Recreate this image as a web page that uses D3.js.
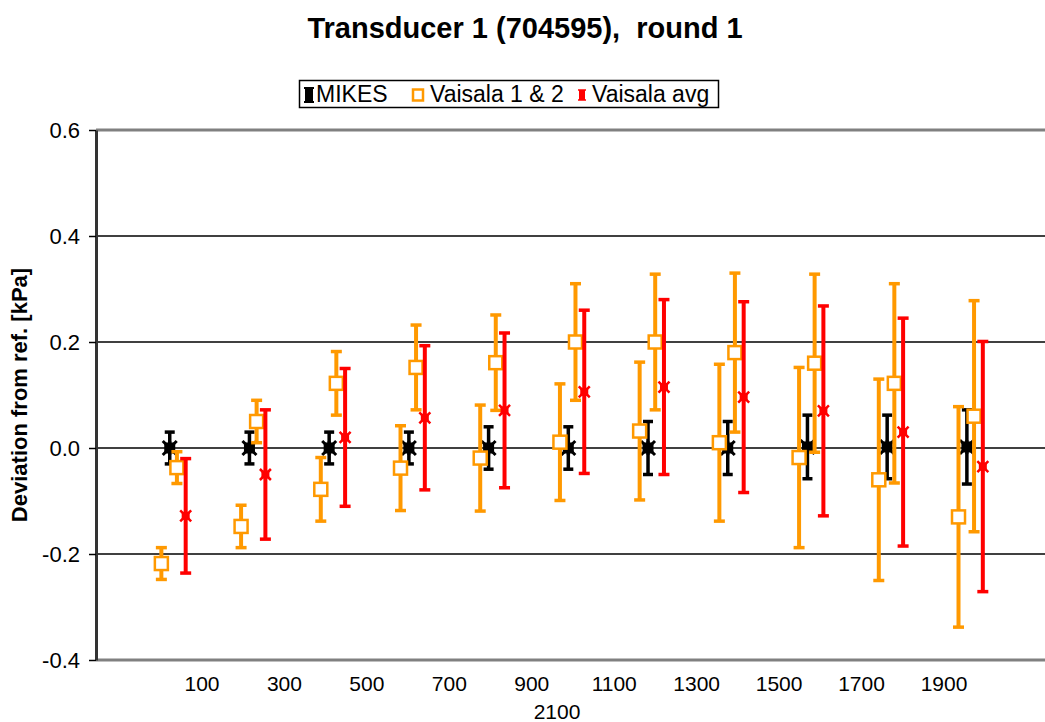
<!DOCTYPE html>
<html>
<head>
<meta charset="utf-8">
<script src="https://cdn.jsdelivr.net/npm/d3@7"></script>
<style>
  html, body { margin: 0; padding: 0; background: #fff; }
  svg { display: block; font-family: Arial, "Liberation Sans", sans-serif; }
</style>
</head>
<body>
<svg id="chart" width="1045" height="722"></svg>
<script>
// Nominal pressure points [hPa] and deviations from reference [kPa]
const mikesP   = [100, 300, 500, 700, 900, 1100, 1300, 1500, 1700, 1900, 2100];
const mikesDev = [0, 0, 0, 0, 0, 0, 0, 0, 0.002, 0.002, 0.002];
const mikesErr = [0.03, 0.03, 0.03, 0.03, 0.04, 0.04, 0.05, 0.05, 0.06, 0.06, 0.07];

const vaisalaP   = [79, 118, 279, 318, 479, 518, 679, 718, 879, 918, 1079, 1118,
                    1279, 1318, 1479, 1518, 1679, 1718, 1879, 1918, 2079, 2118];
const vaisalaDev = [-0.218, -0.037, -0.148, 0.05, -0.078, 0.122, -0.038, 0.152, -0.019, 0.161, 0.011, 0.2,
                    0.032, 0.2, 0.01, 0.18, -0.018, 0.16, -0.06, 0.122, -0.13, 0.06];
const vaisalaErr = [0.03, 0.03, 0.04, 0.04, 0.06, 0.06, 0.08, 0.08, 0.1, 0.09, 0.11, 0.11,
                    0.13, 0.128, 0.148, 0.15, 0.17, 0.168, 0.19, 0.188, 0.208, 0.218];

const avgP   = [140, 340, 540, 740, 940, 1140, 1340, 1540, 1740, 1940, 2140];
const avgDev = [-0.128, -0.05, 0.02, 0.057, 0.071, 0.106, 0.115, 0.096, 0.07, 0.03, -0.035];
const avgErr = [0.108, 0.122, 0.13, 0.136, 0.146, 0.154, 0.165, 0.18, 0.198, 0.215, 0.236];

const yTicks = [-0.4, -0.2, 0.0, 0.2, 0.4, 0.6];
const pressureLabels = ["100", "300", "500", "700", "900", "1100", "1300", "1500", "1700", "1900", "2100"];

const titleText = "Transducer 1 (704595),  round 1";
const yTitle = "Deviation from ref. [kPa]";
const seriesNames = ["MIKES", "Vaisala 1 & 2", "Vaisala avg"];

const ORANGE = "#FF9900", RED = "#FF0000", BLACK = "#000000";

const svg = d3.select("#chart");
const plot = { left: 96, right: 1045, top: 130, bottom: 660 };

const x = d3.scaleLinear().domain([-85, 2296]).range([plot.left, plot.right]);
const y = d3.scaleLinear().domain([-0.4, 0.6]).range([plot.bottom, plot.top]);

// Title
svg.append("text")
  .attr("x", 525).attr("y", 38)
  .attr("text-anchor", "middle")
  .style("font-size", "29px").style("font-weight", "bold")
  .style("white-space", "pre")
  .text(titleText);

// Gridlines
svg.append("g").selectAll("line")
  .data(yTicks.filter(t => t > -0.4 && t < 0.6))
  .join("line")
  .attr("x1", plot.left).attr("x2", plot.right)
  .attr("y1", d => y(d)).attr("y2", d => y(d))
  .attr("stroke", "#000").attr("stroke-width", 1.5);

// Plot-area frame (top and bottom edges)
svg.append("line")
  .attr("x1", plot.left).attr("x2", plot.right)
  .attr("y1", plot.top).attr("y2", plot.top)
  .attr("stroke", "#808080").attr("stroke-width", 3);
svg.append("line")
  .attr("x1", plot.left).attr("x2", plot.right)
  .attr("y1", plot.bottom).attr("y2", plot.bottom)
  .attr("stroke", "#808080").attr("stroke-width", 3);

// Y axis
const yAxis = d3.axisLeft(y).tickValues(yTicks)
  .tickFormat(d => d.toFixed(1)).tickSizeInner(7).tickSizeOuter(0).tickPadding(9);
const gy = svg.append("g").attr("transform", `translate(${plot.left},0)`).call(yAxis);
gy.select(".domain").attr("stroke", "#333").attr("stroke-width", 3);
gy.selectAll(".tick line").attr("stroke", "#000").attr("stroke-width", 1.5);
gy.selectAll(".tick text")
  .style("font-size", "22px").style("font-family", "Arial, 'Liberation Sans', sans-serif")
  .attr("fill", "#000");

// Y axis title
svg.append("text")
  .attr("transform", `translate(27,${(plot.top + plot.bottom) / 2}) rotate(-90)`)
  .attr("text-anchor", "middle")
  .style("font-size", "22px").style("font-weight", "bold")
  .text(yTitle);

// Pressure labels below the plot
const firstLine = pressureLabels.slice(0, -1);
const xLab = d3.scalePoint().domain(firstLine).range([202, 944]);
svg.append("g").selectAll("text")
  .data(firstLine)
  .join("text")
  .attr("x", d => xLab(d)).attr("y", 691)
  .attr("text-anchor", "middle")
  .style("font-size", "21px")
  .text(d => d);
svg.append("text")
  .attr("x", 557).attr("y", 719)
  .attr("text-anchor", "middle")
  .style("font-size", "21px")
  .text(pressureLabels[pressureLabels.length - 1]);

// Marker shapes
function starPath(r) {
  const p = d3.path();
  p.moveTo(-r, -r); p.lineTo(r, r);
  p.moveTo(r, -r); p.lineTo(-r, r);
  p.moveTo(0, -r); p.lineTo(0, r);
  return p.toString();
}

function drawSeries(ps, devs, errs, color, barW, capW, marker) {
  const g = svg.append("g");
  const data = ps.map((p, i) => ({ p, v: devs[i], e: errs[i] }));
  const bars = g.selectAll("g.bar").data(data).join("g").attr("class", "bar");
  bars.append("line")
    .attr("x1", d => x(d.p)).attr("x2", d => x(d.p))
    .attr("y1", d => y(d.v + d.e)).attr("y2", d => y(d.v - d.e))
    .attr("stroke", color).attr("stroke-width", barW);
  bars.append("line")
    .attr("x1", d => x(d.p) - capW / 2).attr("x2", d => x(d.p) + capW / 2)
    .attr("y1", d => y(d.v + d.e)).attr("y2", d => y(d.v + d.e))
    .attr("stroke", color).attr("stroke-width", 3.5);
  bars.append("line")
    .attr("x1", d => x(d.p) - capW / 2).attr("x2", d => x(d.p) + capW / 2)
    .attr("y1", d => y(d.v - d.e)).attr("y2", d => y(d.v - d.e))
    .attr("stroke", color).attr("stroke-width", 3.5);
  const m = g.selectAll("g.mk").data(data).join("g").attr("class", "mk")
    .attr("transform", d => `translate(${x(d.p)},${y(d.v)})`);
  marker(m);
}

function mikesMarker(sel) {
  sel.append("rect").attr("x", -5.5).attr("y", -5.5).attr("width", 11).attr("height", 11).attr("fill", BLACK);
  sel.append("path").attr("d", starPath(7)).attr("stroke", BLACK).attr("stroke-width", 3).attr("fill", "none");
}
function squareMarker(sel) {
  sel.append("rect").attr("x", -6.5).attr("y", -6.5).attr("width", 13).attr("height", 13)
    .attr("fill", "#fff").attr("stroke", ORANGE).attr("stroke-width", 2.5);
}
function avgMarker(sel) {
  sel.append("rect").attr("x", -4).attr("y", -4).attr("width", 8).attr("height", 8).attr("fill", RED);
  sel.append("path").attr("d", starPath(5.5)).attr("stroke", RED).attr("stroke-width", 2.5).attr("fill", "none");
}

drawSeries(mikesP, mikesDev, mikesErr, BLACK, 3.5, 10, mikesMarker);
drawSeries(vaisalaP, vaisalaDev, vaisalaErr, ORANGE, 4, 11, squareMarker);
drawSeries(avgP, avgDev, avgErr, RED, 4, 11, avgMarker);

// Legend
const legend = svg.append("g");
legend.append("rect")
  .attr("x", 299.5).attr("y", 80.5).attr("width", 419).attr("height", 27)
  .attr("fill", "#fff").attr("stroke", "#000").attr("stroke-width", 1.5);
const legendItems = [
  { name: seriesNames[0], mx: 309, tx: 316, draw: sel => {
      sel.append("rect").attr("x", -4).attr("y", -7).attr("width", 8).attr("height", 14).attr("fill", BLACK);
      sel.append("path").attr("d", "M-5,-7L5,-7M-5,7L5,7").attr("stroke", BLACK).attr("stroke-width", 2);
    } },
  { name: seriesNames[1], mx: 418, tx: 430, draw: sel => {
      sel.append("rect").attr("x", -5).attr("y", -5.5).attr("width", 10).attr("height", 11)
        .attr("fill", "#fff").attr("stroke", ORANGE).attr("stroke-width", 2.5);
    } },
  { name: seriesNames[2], mx: 582, tx: 592, draw: sel => {
      sel.append("rect").attr("x", -3).attr("y", -5).attr("width", 6).attr("height", 10).attr("fill", RED);
      sel.append("path").attr("d", "M-4,-5L4,-5M-4,5L4,5").attr("stroke", RED).attr("stroke-width", 1.5);
    } }
];
legendItems.forEach(it => {
  const gm = legend.append("g").attr("transform", `translate(${it.mx},95)`);
  it.draw(gm);
  legend.append("text").attr("x", it.tx).attr("y", 102)
    .style("font-size", "23px").text(it.name);
});
</script>
</body>
</html>
